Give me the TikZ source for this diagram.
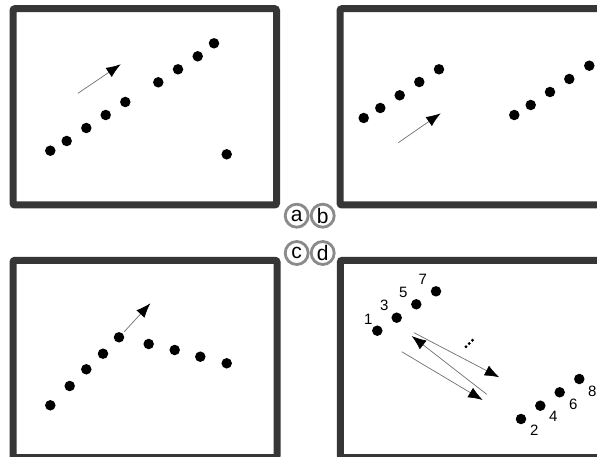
\documentclass[tikz,border=0pt]{standalone}
\usepackage{fontspec}
\setmainfont{Liberation Sans}
\usetikzlibrary{arrows.meta}
\definecolor{framecol}{HTML}{363636}
\definecolor{ringcol}{HTML}{8A8A8A}
\definecolor{arrcol}{HTML}{707070}
\begin{document}
\begin{tikzpicture}[x=1pt,y=-1pt,
  frame/.style={draw=framecol,line width=7pt,rounded corners=2pt},
  dot/.style={circle,fill=black,inner sep=0pt,minimum size=10.5pt},
  tinydot/.style={circle,fill=black,inner sep=0pt,minimum size=3.2pt},
  arr/.style={draw=arrcol,line width=0.7pt,-{Latex[length=14.5pt,width=11pt,color=black]}},
  ring/.style={circle,draw=ringcol,line width=2.8pt,minimum size=23pt,inner sep=0pt,font=\fontsize{21}{21}\selectfont},
  num/.style={font=\fontsize{15}{15}\selectfont,inner sep=0pt}]
\useasboundingbox (0,0) rectangle (597,457);
\fill[white] (0,0) rectangle (597,457);
% frames
\draw[frame] (13,8.7) rectangle (276.5,205);
\draw[frame] (340,8.7) rectangle (620,205);
\draw[frame] (13,260.3) rectangle (277,457.5);
\draw[frame] (340.3,260.3) rectangle (620,457.5);
% panel a
\foreach \n/\x/\y in {1/50.3/150.7,2/66.7/141,3/86.3/128,4/105.7/115,5/125.3/102,6/158.3/82.3,7/178/69.3,8/197.7/56.3,9/214/43.3,10/226.7/154.3}
  \node[dot] (a\n) at (\x,\y) {};
\coordinate (aA1) at (78,93.3);
\coordinate (aA2) at (120.7,64.3);
\draw[arr] (aA1) -- (aA2);
% panel b
\foreach \n/\x/\y in {1/363.7/118,2/380.3/108,3/399.7/95.3,4/419.3/82,5/439/69.3,6/514.3/115,7/530.7/105,8/550/92,9/569.3/79,10/589.3/65.7}
  \node[dot] (b\n) at (\x,\y) {};
\coordinate (bA1) at (398.3,142.7);
\coordinate (bA2) at (440.7,113.3);
\draw[arr] (bA1) -- (bA2);
% panel c
\foreach \n/\x/\y in {1/50.3/405.3,2/69.7/386,3/86.3/369.3,4/103/353.7,5/119/337.3,6/148.7/344,7/174.7/350,8/200.3/356.7,9/226.7/363.3}
  \node[dot] (c\n) at (\x,\y) {};
\coordinate (cA1) at (124,332);
\coordinate (cA2) at (150.3,303.3);
\draw[arr] (cA1) -- (cA2);
% panel d
\foreach \n/\x/\y/\lx/\ly in {1/377.3/330.7/368.3/319.3,3/396.7/317.7/384.3/305,5/416.3/304.3/403.3/292.3,7/436/291.3/422.7/279,2/521/419/534.3/430,4/540.3/405.7/553.3/416.7,6/559.7/392.3/573.3/404,8/579.3/379/592.3/391}
  {\node[dot] (d\n) at (\x,\y) {};
   \node[num] (l\n) at (\lx,\ly) {\n};}
\coordinate (dA1s) at (414,332.7);
\coordinate (dA1e) at (499.3,377.3);
\coordinate (dA2s) at (486.7,394.3);
\coordinate (dA2e) at (411.7,336);
\coordinate (dA3s) at (401.7,351.7);
\coordinate (dA3e) at (482.7,400);
\draw[arr] (dA1s) -- (dA1e);
\draw[arr] (dA2s) -- (dA2e);
\draw[arr] (dA3s) -- (dA3e);
\node[tinydot] (e1) at (466,346.7) {};
\node[tinydot] (e2) at (469.3,343.5) {};
\node[tinydot] (e3) at (472.5,340.3) {};
% labels
\node[ring] (ra) at (296.7,215.7) {a};
\node[ring] (rb) at (322.7,215.7) {b};
\node[ring] (rc) at (296.7,253) {c};
\node[ring] (rd) at (322.7,253) {d};
\end{tikzpicture}
\end{document}
